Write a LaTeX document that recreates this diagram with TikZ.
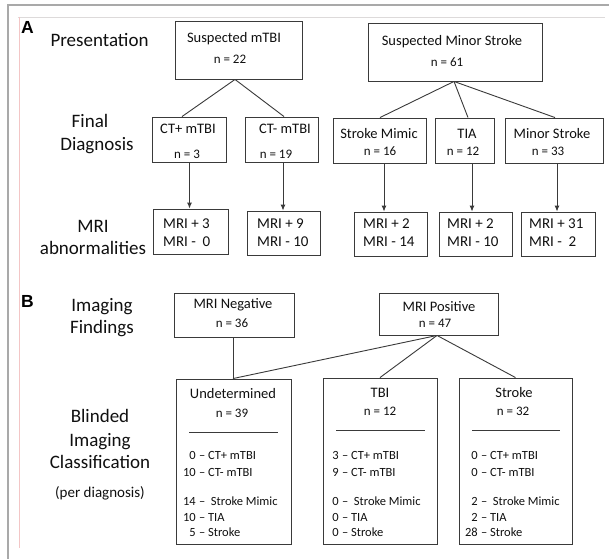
\documentclass[tikz,border=0pt]{standalone}
\usepackage{fontspec}
\setmainfont{Carlito}
\newfontfamily\labfont{Liberation Sans}
\usetikzlibrary{arrows.meta}
\definecolor{ink}{HTML}{101010}
\definecolor{boxline}{HTML}{3A3A3A}
\definecolor{frameout}{HTML}{A9A9A9}
\definecolor{frametop}{HTML}{DDDADA}
\definecolor{framepink}{HTML}{F3C6C6}
\tikzset{
  box/.style={draw=boxline, line width=0.9pt, rectangle, inner sep=0pt},
  conn/.style={draw=boxline, line width=0.9pt},
  arr/.style={conn, -{Latex[length=6pt,width=5pt]}},
  side/.style={inner sep=0pt, text=ink, font=\fontsize{19}{22}\selectfont, anchor=base},
  ttl/.style={inner sep=0pt, text=ink, font=\fontsize{14.5}{17}\selectfont, anchor=base},
  cnt/.style={inner sep=0pt, text=ink, font=\fontsize{13}{15}\selectfont, anchor=base},
  mri/.style={inner sep=0pt, text=ink, font=\fontsize{15}{18}\selectfont, anchor=base west},
  lst/.style={inner sep=0pt, text=ink, font=\fontsize{12.5}{15}\selectfont},
  panel/.style={inner sep=0pt, text=black, font=\labfont\bfseries\fontsize{17.5}{20}\selectfont},
}
\newcommand\clsline[5]{%
  \node[lst,anchor=base east] (#1n) at (#2,#3) {#4};
  \node[lst,anchor=base west] (#1t) at (#2,#3) {\ –\ #5};}
\begin{document}
\begin{tikzpicture}[x=1pt,y=-1pt]
\useasboundingbox (0,0) rectangle (609,559);
\fill[white] (0,0) rectangle (609,559);
% frame
\draw[frameout, line width=1.8pt] (8,559) -- (8,5) -- (609,5);
\draw[frametop, line width=0.8pt] (18,17) -- (605,17);
\draw[framepink, line width=0.8pt] (19,17) -- (19,548);

% ---------------- Panel A ----------------
\node[panel] (pa) at (27.5,27.5) {A};
\node[side] (lpres) at (99.5,47) {Presentation};
\node[side] (lfin) at (90,127) {Final};
\node[side] (ldia) at (97,150) {Diagnosis};
\node[side] (lmri) at (93,232) {MRI};
\node[side] (labn) at (93,254) {abnormalities};

\node[box, minimum width=127pt, minimum height=58pt] (smtbi) at (238.5,50) {};
\node[ttl] (smtbit) at (234,43) {Suspected mTBI};
\node[cnt] (smtbin) at (230,64) {n = 22};

\node[box, minimum width=174pt, minimum height=58pt] (sstroke) at (455,52) {};
\node[ttl] (sstroket) at (452,46) {Suspected Minor Stroke};
\node[cnt] (sstroken) at (447,67) {n = 61};

\node[box, minimum width=74pt, minimum height=45pt] (ctp) at (189,139.5) {};
\node[ttl] (ctpt) at (188,133) {CT+ mTBI};
\node[cnt] (ctpn) at (187,158) {n = 3};

\node[box, minimum width=73pt, minimum height=45pt] (ctm) at (281.5,139.5) {};
\node[ttl] (ctmt) at (285,133) {CT- mTBI};
\node[cnt] (ctmn) at (276,158) {n = 19};

\node[box, minimum width=93pt, minimum height=45pt] (mimic) at (379.5,140.5) {};
\node[ttl] (mimict) at (379,138) {Stroke Mimic};
\node[cnt] (mimicn) at (380,155) {n = 16};

\node[box, minimum width=59pt, minimum height=45pt] (tia) at (464.5,140.5) {};
\node[ttl] (tiat) at (467,138) {TIA};
\node[cnt] (tian) at (463,155) {n = 12};

\node[box, minimum width=98pt, minimum height=45pt] (minor) at (554,140.5) {};
\node[ttl] (minort) at (552,138) {Minor Stroke};
\node[cnt] (minorn) at (548,155) {n = 33};

\node[box, minimum width=75pt, minimum height=45pt] (m1) at (190.5,231.5) {};
\node[mri] (m1a) at (163,228) {MRI + 3};
\node[mri] (m1b) at (163,246) {MRI -\ \ 0};

\node[box, minimum width=73pt, minimum height=44pt] (m2) at (283.5,233) {};
\node[mri] (m2a) at (257,228) {MRI + 9};
\node[mri] (m2b) at (257,246) {MRI - 10};

\node[box, minimum width=73pt, minimum height=44pt] (m3) at (390.5,234) {};
\node[mri] (m3a) at (363,228) {MRI + 2};
\node[mri] (m3b) at (363,246) {MRI - 14};

\node[box, minimum width=73pt, minimum height=44pt] (m4) at (475.5,234) {};
\node[mri] (m4a) at (447,228) {MRI + 2};
\node[mri] (m4b) at (447,246) {MRI - 10};

\node[box, minimum width=74pt, minimum height=44pt] (m5) at (558,234) {};
\node[mri] (m5a) at (529,228) {MRI + 31};
\node[mri] (m5b) at (529,246) {MRI -\ \ 2};

\draw[conn] ([xshift=-3.5pt]smtbi.south) -- ([xshift=-7pt]ctp.north);
\draw[conn] ([xshift=-3.5pt]smtbi.south) -- ([xshift=2.5pt]ctm.north);
\draw[conn] ([xshift=-1pt]sstroke.south) -- ([xshift=0.5pt]mimic.north);
\draw[conn] ([xshift=-1pt]sstroke.south) -- ([xshift=3.5pt]tia.north);
\draw[conn] ([xshift=-1pt]sstroke.south) -- ([xshift=1pt]minor.north);

\draw[arr] ([xshift=0.5pt]ctp.south) -- ([xshift=0.5pt]ctp.south |- m1.north);
\draw[arr] ([xshift=1.5pt]ctm.south) -- ([xshift=1.5pt]ctm.south |- m2.north);
\draw[arr] ([xshift=4.5pt]mimic.south) -- ([xshift=4.5pt]mimic.south |- m3.north);
\draw[arr] ([xshift=7.5pt]tia.south) -- ([xshift=7.5pt]tia.south |- m4.north);
\draw[arr] ([xshift=3pt]minor.south) -- ([xshift=3pt]minor.south |- m5.north);

% ---------------- Panel B ----------------
\node[panel] (pb) at (27.5,301) {B};
\node[side] (limg) at (102,311) {Imaging};
\node[side] (lfind) at (102,333) {Findings};
\node[side] (lblind) at (100,422) {Blinded};
\node[side] (limg2) at (100,446) {Imaging};
\node[side] (lclass) at (100,468) {Classification};
\node[side, font=\fontsize{15}{18}\selectfont] (lper) at (100,497) {(per diagnosis)};

\node[box, minimum width=120pt, minimum height=44pt] (mneg) at (234,315) {};
\node[ttl] (mnegt) at (233,308) {MRI Negative};
\node[cnt] (mnegn) at (232,327) {n = 36};

\node[box, minimum width=119pt, minimum height=42pt] (mpos) at (438.5,314) {};
\node[ttl] (mpost) at (439,311) {MRI Positive};
\node[cnt] (mposn) at (435,327) {n = 47};

\node[box, minimum width=115pt, minimum height=165pt] (und) at (233.5,461.5) {};
\node[ttl] (undt) at (233,398) {Undetermined};
\node[cnt] (undn) at (232,417) {n = 39};
\draw[conn] (189,432) -- (278,432);
\clsline{u1}{196}{459}{0}{CT+ mTBI}
\clsline{u2}{196}{476}{10}{CT- mTBI}
\clsline{u3}{196}{505}{14}{\ Stroke Mimic}
\clsline{u4}{196}{521}{10}{TIA}
\clsline{u5}{196}{536}{5}{Stroke}

\node[box, minimum width=114pt, minimum height=166pt] (tbi) at (380,461) {};
\node[ttl] (tbit) at (380,397) {TBI};
\node[cnt] (tbin) at (380,415) {n = 12};
\draw[conn] (336,430) -- (425,430);
\clsline{t1}{339}{459}{3}{CT+ mTBI}
\clsline{t2}{339}{476}{9}{CT- mTBI}
\clsline{t3}{339}{505}{0}{\ Stroke Mimic}
\clsline{t4}{339}{521}{0}{TIA}
\clsline{t5}{339}{536}{0}{Stroke}

\node[box, minimum width=113pt, minimum height=166pt] (strk) at (515.5,461) {};
\node[ttl] (strkt) at (514,397) {Stroke};
\node[cnt] (strkn) at (513,415) {n = 32};
\draw[conn] (472,430) -- (560,430);
\clsline{s1}{478}{459}{0}{CT+ mTBI}
\clsline{s2}{478}{476}{0}{CT- mTBI}
\clsline{s3}{478}{505}{2}{\ Stroke Mimic}
\clsline{s4}{478}{521}{2}{TIA}
\clsline{s5}{478}{536}{28}{Stroke}

\draw[conn] ([xshift=-1pt]mneg.south) -- ([xshift=-1pt]mneg.south |- und.north);
\draw[conn] ([xshift=-1.5pt]mpos.south) -- ([xshift=-0.5pt]und.north);
\draw[conn] ([xshift=-1.5pt]mpos.south) -- (tbi.north);
\draw[conn] ([xshift=-1.5pt]mpos.south) -- (strk.north);
\end{tikzpicture}
\end{document}
